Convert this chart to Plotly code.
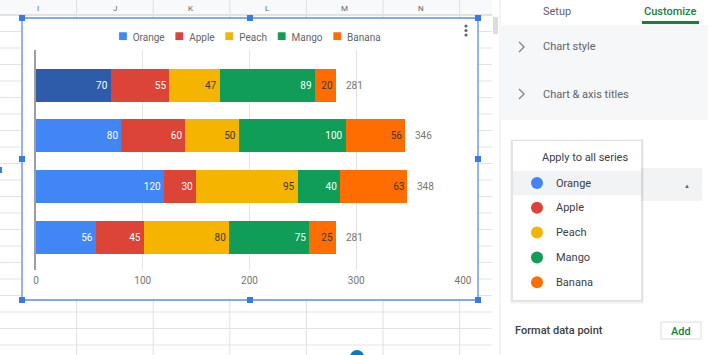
import plotly.graph_objects as go

# ---------------- data ----------------
categories = ["A", "B", "C", "D"]
series_names = ["Orange", "Apple", "Peach", "Mango", "Banana"]
orange = [70, 80, 120, 56]
apple = [55, 60, 30, 45]
peach = [47, 50, 95, 80]
mango = [89, 100, 40, 75]
banana = [20, 56, 63, 25]
x_ticks = [0, 100, 200, 300, 400]
col_letters = ["I", "J", "K", "L", "M", "N"]

series_values = [orange, apple, peach, mango, banana]
series_colors = ["#4285F4", "#DB4437", "#F4B400", "#0F9D58", "#FF6D01"]
label_colors = ["#ffffff", "#ffffff", "#3a3a3a", "#ffffff", "#3a3a3a"]
highlight_color = "#2f5caa"  # hovered first Orange segment

FONT = "Roboto"

# plot-area pixel geometry (for decoration placement only)
L, R, T, B = 36, 463, 50, 270
W, H = R - L, B - T


def X(px):
    return (px - L) / W


def Y(py):
    return (B - py) / H


fig = go.Figure()

for i, (name, vals) in enumerate(zip(series_names, series_values)):
    colors = [series_colors[i]] * len(vals)
    if name == "Orange":
        colors[0] = highlight_color
    fig.add_trace(go.Bar(
        name=name, y=categories, x=vals, orientation="h",
        marker=dict(color=colors, line=dict(width=0)),
        text=[str(v) for v in vals], textposition="inside",
        insidetextanchor="end", textangle=0, constraintext="none",
        insidetextfont=dict(family=FONT, size=10, color=label_colors[i]),
        hoverinfo="skip", showlegend=False,
    ))

totals = [sum(v) for v in zip(*series_values)]
annotations = []
for cat, tot in zip(categories, totals):
    annotations.append(dict(x=tot, y=cat, xref="x", yref="y", text=str(tot),
                            showarrow=False, xanchor="left", xshift=8,
                            font=dict(family=FONT, size=10, color="#757575")))

# legend line built from the series names and colours
sp = "&nbsp;"
legend_text = (sp * 4).join(
    f"<span style='color:{c};font-size:16px'>■</span>{sp * 2}{n}"
    for n, c in zip(series_names, series_colors))
annotations.append(dict(x=0.5, y=Y(36), xref="paper", yref="paper", text=legend_text,
                        showarrow=False, xanchor="center", yanchor="middle",
                        font=dict(family=FONT, size=10, color="#666666")))

shapes = []


def rect(x0, y0, x1, y1, fill, line=None, lw=0):
    shapes.append(dict(type="rect", xref="paper", yref="paper",
                       x0=X(x0), x1=X(x1), y0=Y(y1), y1=Y(y0),
                       fillcolor=fill, layer="below",
                       line=dict(color=line or "rgba(0,0,0,0)", width=lw)))


def hline(x0, x1, y, color, w=1):
    shapes.append(dict(type="line", xref="paper", yref="paper",
                       x0=X(x0), x1=X(x1), y0=Y(y), y1=Y(y), layer="below",
                       line=dict(color=color, width=w)))


def vline(x, y0, y1, color, w=1):
    shapes.append(dict(type="line", xref="paper", yref="paper",
                       x0=X(x), x1=X(x), y0=Y(y0), y1=Y(y1), layer="below",
                       line=dict(color=color, width=w)))


def circle(cx, cy, r, fill):
    shapes.append(dict(type="circle", xref="paper", yref="paper",
                       x0=X(cx - r), x1=X(cx + r), y0=Y(cy + r), y1=Y(cy - r),
                       fillcolor=fill, layer="below", line=dict(width=0)))


def text(px, py, s, size=11, color="#3c4043", anchor="left", weight=None):
    f = dict(family=FONT, size=size, color=color)
    if weight:
        f["weight"] = weight
    annotations.append(dict(x=X(px), y=Y(py), xref="paper", yref="paper",
                            text=s, showarrow=False, xanchor=anchor,
                            yanchor="middle", font=f))


# ---- spreadsheet background ----
rect(0, 0, 492, 355, "#ffffff")
rect(0, 0, 492, 15, "#f8f9fa")
yy = 15 + 16.5
while yy < 355:
    hline(0, 492, yy, "#e3e3e3")
    yy += 16.5
hline(0, 492, 15, "#c8c8c8")
for k in range(1, 7):
    vline(76.6 * k, 0, 355, "#e0e0e0")
for k, letter in enumerate(col_letters):
    text(38 + 76.6 * k, 8, letter, size=8, color="#666666", anchor="center")

# ---- chart box ----
rect(22, 18, 478, 300, "#ffffff", "#5a8de6", 1.3)
for hx in (22, 250, 478):
    for hy in (18, 159, 300):
        if hx == 250 and hy == 159:
            continue
        rect(hx - 3, hy - 3, hx + 3, hy + 3, "#3b78e7")
for dy in (26, 30.5, 35):
    circle(466, dy, 1.6, "#666666")
rect(0, 167, 2, 173, "#3b78e7")

# ---- side panel ----
rect(492, 0, 708, 355, "#ffffff")
rect(493, 17, 498, 34, "#dadce0")
vline(500, 0, 355, "#e8e8e8")
rect(500, 25, 708, 120, "#f6f7f8")
text(557, 11, "Setup", 11, "#5f6368", "center")
text(670, 11, "Customize", 11, "#188038", "center", 500)
rect(642, 21, 699, 24, "#188038")
for cy in (47, 94):
    shapes.append(dict(type="path", xref="paper", yref="paper", layer="below",
                       path=f"M {X(519)},{Y(cy-5)} L {X(524)},{Y(cy)} L {X(519)},{Y(cy+5)}",
                       line=dict(color="#80868b", width=1.4)))
text(541, 47, "Chart style", 11, "#5f6368")
text(541, 94, "Chart & axis titles", 11, "#5f6368")
# dropdown behind popup
rect(641, 168, 702, 201, "#f1f3f4")
text(687, 185, "▲", 6, "#5f6368", "center")
# popup card with shadow
rect(510, 139, 644, 304, "rgba(0,0,0,0.04)")
rect(511, 140, 643, 302, "rgba(0,0,0,0.07)")
rect(513, 141, 641, 300, "#ffffff")
rect(513, 171, 641, 195, "#f1f3f4")
text(585, 157, "Apply to all series", 11, "#3c4043", "center")
for k, (name, col) in enumerate(zip(series_names, series_colors)):
    cy = 183 + 24.8 * k
    circle(537, cy, 6, col)
    text(554, cy, name, 11, "#3c4043")
text(513, 330, "Format data point", 11, "#3c4043", "left", 500)
rect(661, 322, 701, 339, "#ffffff", "#dadce0", 1)
text(681, 331, "Add", 11, "#188038", "center", 500)
circle(357, 357, 7, "#0f7ab8")

fig.update_layout(
    width=708, height=355,
    margin=dict(l=L, r=708 - R, t=T, b=355 - B, pad=0),
    barmode="stack", bargap=0.35,
    paper_bgcolor="#ffffff", plot_bgcolor="rgba(0,0,0,0)",
    font=dict(family=FONT, size=10, color="#757575"),
    showlegend=False,
    xaxis=dict(range=[0, 400], tickvals=x_ticks, ticktext=[str(t) for t in x_ticks],
               showgrid=True, gridcolor="#e3e3e3", gridwidth=1, zeroline=False,
               showline=False, ticks="", ticklabelstandoff=3,
               tickfont=dict(family=FONT, size=10, color="#757575"), fixedrange=True),
    yaxis=dict(type="category", range=[3.64, -0.69], showticklabels=False,
               showgrid=False, zeroline=False, showline=True, linecolor="#9e9e9e",
               linewidth=1.5, ticks="", fixedrange=True),
    shapes=shapes, annotations=annotations,
)

fig.write_html(
    "out.html",
    config={"displayModeBar": False},
    post_script="document.body.style.margin='0';document.body.style.overflow='hidden';",
)
